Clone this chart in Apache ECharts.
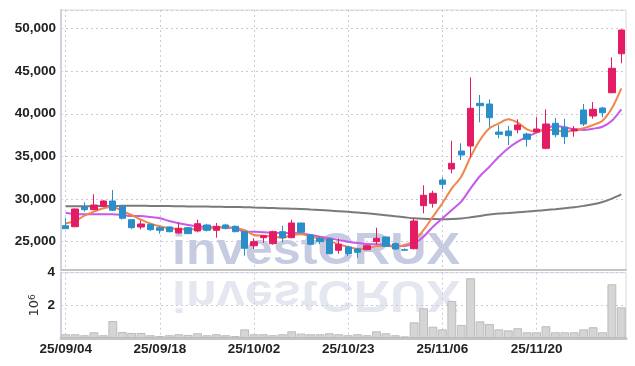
<!DOCTYPE html>
<html>
<head>
<meta charset="utf-8">
<script src="https://cdn.jsdelivr.net/npm/echarts@6/dist/echarts.min.js"></script>
<style>
html,body{margin:0;padding:0;background:#fff;}
#chart{width:635px;height:366px;}
</style>
</head>
<body>
<div id="chart"></div>
<script>
const dates = ['25/09/04','25/09/05','25/09/08','25/09/09','25/09/10','25/09/11','25/09/12','25/09/15','25/09/16','25/09/17',
'25/09/18','25/09/19','25/09/22','25/09/23','25/09/24','25/09/25','25/09/26','25/09/29','25/09/30','25/10/01',
'25/10/02','25/10/10','25/10/13','25/10/14','25/10/15','25/10/16','25/10/17','25/10/20','25/10/21','25/10/22',
'25/10/23','25/10/24','25/10/27','25/10/28','25/10/29','25/10/30','25/10/31','25/11/03','25/11/04','25/11/05',
'25/11/06','25/11/07','25/11/10','25/11/11','25/11/12','25/11/13','25/11/14','25/11/17','25/11/18','25/11/19',
'25/11/20','25/11/21','25/11/24','25/11/25','25/11/26','25/11/27','25/11/28','25/12/01','25/12/02','25/12/03'];

const opens  = [26876,26759,29069,28752,29150,29772,29150,27580,26724,27040,
26641,26724,26020,26641,26255,26958,26337,26958,26806,26173,
24531,25469,24766,26173,25469,27193,25786,25398,25317,23992,
24379,24144,24062,25000,25551,24766,24062,24179,29221,29502,
32234,33524,35635,36221,41228,41145,37862,37980,38132,37628,
37862,35951,38882,38413,37980,40442,39738,40676,42470,47043];
const closes = [26524,28834,28752,29303,29772,28682,27744,26641,27075,26407,
26337,26173,26571,25938,27110,26337,26806,26571,26173,24226,
25000,25703,26173,25469,27193,26102,24695,25000,23593,24695,
23593,23757,24531,25398,24461,24144,24000,27427,30440,30675,
31730,34192,35166,40641,40946,39539,37593,37429,38683,37006,
38214,38800,37546,37311,38214,38800,40524,40125,45331,49822];
const lows   = [26500,26700,28518,28700,29100,28600,27600,26500,26454,26254,
25938,26102,25950,25900,26102,26200,25469,26430,26100,23358,
24144,24860,24650,24930,25400,26000,24600,24700,23500,23593,
23300,23124,24000,24695,24400,24050,23950,24100,28330,28987,
31144,33020,34579,34896,38999,38413,37124,36338,37710,36139,
37800,35834,37241,36455,37311,38566,39422,39586,42400,45917];
const highs  = [27744,28900,29620,30558,29850,31062,29200,27600,27509,27100,
26806,26800,27275,26700,27580,27100,27193,27100,26900,26200,
25398,25780,26300,26876,27580,27200,25900,25600,25400,25398,
24500,24300,24600,26641,25600,24900,24200,27744,31613,30980,
32551,36842,36538,44276,42200,41697,38683,38566,39351,37780,
39586,40524,39504,39422,38566,41145,41380,40829,46621,49900];
const volumes = [230000,230000,170000,350000,170000,1040000,370000,310000,310000,170000,
120000,170000,230000,190000,290000,170000,230000,170000,120000,530000,
230000,230000,170000,230000,410000,270000,230000,230000,290000,230000,
170000,230000,170000,410000,290000,170000,100000,960000,1820000,690000,
530000,2270000,800000,3660000,1020000,860000,530000,470000,600000,350000,
350000,720000,350000,350000,350000,530000,660000,350000,3290000,1880000];
const ma5 = [27157,27427,28049,28518,28916,29069,28600,28131,27580,27111,
26806,26571,26489,26454,26489,26571,26642,26688,26642,26337,
25786,25704,25586,25469,25786,25868,25586,25399,25082,24695,
24379,24144,24226,24496,24531,24414,24613,25117,26372,27931,
29502,31261,32621,34966,36924,38296,38882,39351,38953,38179,
37898,38097,38097,37862,38097,38296,38683,39187,40641,42986];
const ma10 = [28365,28248,28213,28213,28213,28213,28131,28013,28013,27896,
27744,27427,27157,26958,26806,26724,26688,26642,26571,26173,
26173,26102,26055,26020,26020,25985,25786,25586,25399,25199,
25000,24848,24730,24695,24613,24496,24496,24812,25586,26759,
27744,28717,29690,31261,32703,33794,34966,35951,36725,37311,
37780,38296,38566,38413,38179,38097,38249,38484,39187,40524];
const maLong = [29151,29151,29162,29174,29186,29186,29209,29209,29209,29198,
29186,29174,29162,29139,29127,29115,29092,29080,29069,29045,
29010,28975,28940,28904,28869,28834,28775,28717,28646,28576,
28506,28424,28330,28224,28107,27978,27861,27744,27685,27650,
27638,27662,27720,27861,28013,28189,28306,28365,28447,28529,
28623,28717,28811,28916,29033,29200,29380,29650,30050,30550];
const priceTicks = [25000,30000,35000,40000,45000,50000];
const volumeTicks = [2000000,4000000];

const candleData = dates.map((d,i)=>[opens[i],closes[i],lows[i],highs[i]]);

const FONT = '"Liberation Sans", Arial, sans-serif';
const gridLineStyle = {color:'#c9cbdc', type:[2,3], width:1};
function fmtNum(v){ return String(v).replace(/\B(?=(\d{3})+(?!\d))/g, ','); }

const chart = echarts.init(document.getElementById('chart'), null, {renderer:'canvas'});
chart.setOption({
  animation:false,
  backgroundColor:'#ffffff',
  grid:[
    {left:61, right:9, top:10, height:260, show:true, borderColor:'#d6d7e2', borderWidth:1},
    {left:61, right:9, top:272.7, height:65.3, show:true, borderColor:'#d6d7e2', borderWidth:1}
  ],
  xAxis:[
    {type:'category', gridIndex:0, data:dates, boundaryGap:true,
     axisLine:{show:true, lineStyle:{color:'#c4c4c4', width:2}}, axisTick:{show:false}, axisLabel:{show:false},
     splitLine:{show:true, interval:9, alignWithLabel:true, lineStyle:gridLineStyle}},
    {type:'category', gridIndex:1, data:dates, boundaryGap:true,
     axisLine:{show:true, lineStyle:{color:'#c4c4c4', width:3}}, axisTick:{show:false},
     axisLabel:{interval:9, color:'#222', fontFamily:FONT, fontWeight:'bold', fontSize:13.5, margin:4},
     splitLine:{show:true, interval:9, alignWithLabel:true, lineStyle:gridLineStyle}}
  ],
  yAxis:[
    {type:'value', gridIndex:0, min:21680, max:52170, scale:true,
     axisLine:{show:true, lineStyle:{color:'#d0d2de', width:2}}, axisTick:{show:false},
     axisLabel:{color:'#222', fontFamily:FONT, fontWeight:'bold', fontSize:13.5, margin:5,
       formatter:v=> priceTicks.indexOf(v)>=0 ? fmtNum(v) : ''},
     splitLine:{show:true, lineStyle:gridLineStyle}},
    {type:'value', gridIndex:1, min:0, max:4000000, interval:2000000,
     axisLine:{show:true, lineStyle:{color:'#d0d2de', width:2}}, axisTick:{show:false},
     axisLabel:{color:'#222', fontFamily:FONT, fontWeight:'bold', fontSize:13.5, margin:6,
       formatter:v=> volumeTicks.indexOf(v)>=0 ? String(v/1000000) : ''},
     splitLine:{show:true, lineStyle:gridLineStyle},
     name:'10{sup|6}', nameLocation:'middle', nameRotate:90, nameGap:20, nameMoveOverlap:false,
     nameTextStyle:{color:'#333', fontFamily:'"DejaVu Sans", sans-serif', fontSize:13,
       rich:{sup:{fontSize:9, verticalAlign:'top', lineHeight:10, color:'#333'}}}}
  ],
  graphic:[
    {type:'text', z:0, x:316, y:274.5,
     style:{text:'investCRUX', font:'bold 53px "Liberation Sans", Arial, sans-serif', fill:'#c6cbe2', align:'center', verticalAlign:'bottom'},
     scaleX:0.95, scaleY:0.85},
    {type:'text', z:0, x:316, y:270.5,
     style:{text:'investCRUX', font:'bold 53px "Liberation Sans", Arial, sans-serif', fill:'#e4e7f0', align:'center', verticalAlign:'bottom'},
     scaleX:0.95, scaleY:-0.85}
  ],
  series:[
    {type:'candlestick', xAxisIndex:0, yAxisIndex:0, data:candleData, barWidth:'72%', z:3,
     itemStyle:{color:'#e31c64', color0:'#2a8fc8', borderColor:'#e31c64', borderColor0:'#2a8fc8', borderWidth:1}},
    {type:'line', xAxisIndex:0, yAxisIndex:0, data:maLong, symbol:'none', smooth:0.3, z:2,
     lineStyle:{color:'#7a7a7a', width:2}},
    {type:'line', xAxisIndex:0, yAxisIndex:0, data:ma10, symbol:'none', smooth:0.3, z:2,
     lineStyle:{color:'#c75ae8', width:2}},
    {type:'line', xAxisIndex:0, yAxisIndex:0, data:ma5, symbol:'none', smooth:0.3, z:2,
     lineStyle:{color:'#f0864a', width:2}},
    {type:'bar', xAxisIndex:1, yAxisIndex:1, data:volumes, barCategoryGap:'6%', z:2,
     itemStyle:{color:'#d5d5d5', borderColor:'#bcbcbc', borderWidth:1}}
  ]
});
</script>
</body>
</html>
